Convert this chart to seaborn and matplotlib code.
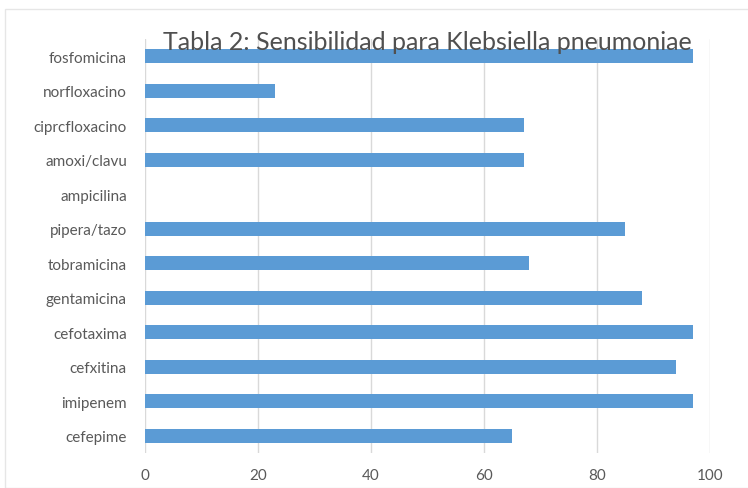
import matplotlib
matplotlib.use("Agg")
import matplotlib.pyplot as plt
import seaborn as sns
import pandas as pd
from matplotlib.patches import Rectangle

categories = ["fosfomicina", "norfloxacino", "ciprcfloxacino", "amoxi/clavu", "ampicilina",
              "pipera/tazo", "tobramicina", "gentamicina", "cefotaxima", "cefxitina",
              "imipenem", "cefepime"]
values = [97, 23, 67, 67, 0, 85, 68, 88, 97, 94, 97, 65]
xticks = [0, 20, 40, 60, 80, 100]
title = "Tabla 2: Sensibilidad para Klebsiella pneumoniae"

sns.set_theme(style="white")
plt.rcParams['font.family'] = ['Lato', 'DejaVu Sans']

df = pd.DataFrame({"cat": categories, "val": values})

fig = plt.figure(figsize=(7.48, 4.89), dpi=100)
ax = fig.add_axes([145/748, 1 - 454/489, (710 - 145)/748, (454 - 40)/489])

sns.barplot(data=df, x="val", y="cat", orient="h", color="#5B9BD5", saturation=1,
            width=0.4, linewidth=0, ax=ax, zorder=3)

ax.set_xlim(0, 100)
ax.set_xticks(xticks)
ax.set_xticklabels([str(t) for t in xticks])
ax.set_xlabel("")
ax.set_ylabel("")
for s in ax.spines.values():
    s.set_visible(False)
ax.grid(axis="x", color="#d9d9d9", linewidth=1, zorder=0)
ax.grid(axis="y", visible=False)
ax.tick_params(axis="both", length=0, labelsize=11, colors="#595959")
ax.tick_params(axis="x", pad=11)
ax.tick_params(axis="y", pad=13)

fig.text(0.572, 1 - 43/489, title, ha="center", va="center", fontsize=18, color="#505050")

fig.patches.append(Rectangle((5/748, 0), 1, 1 - 10/489, transform=fig.transFigure,
                             fill=False, edgecolor="#e6e6e6", linewidth=1))

fig.savefig("out.png", dpi=100)
